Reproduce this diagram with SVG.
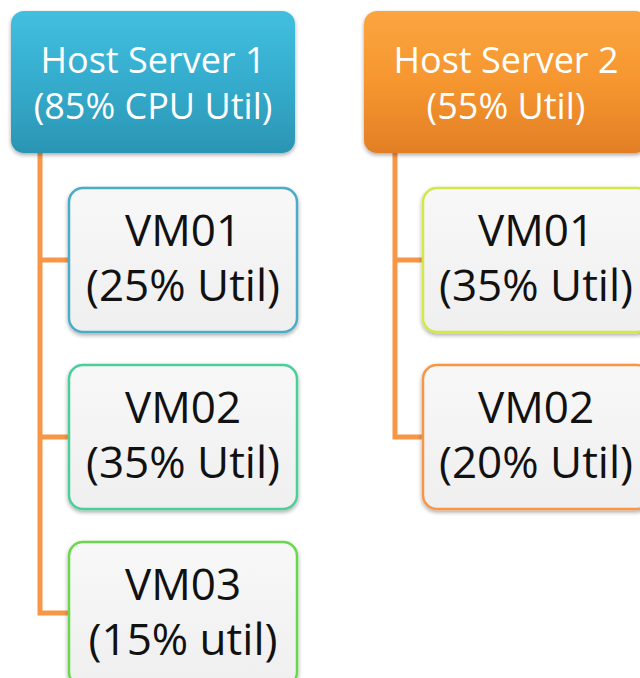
<svg xmlns="http://www.w3.org/2000/svg" width="640" height="678" viewBox="0 0 640 678">
<style>
.host text{fill:#ffffff;font-family:"Open Sans","Liberation Sans",sans-serif;font-size:36px;text-anchor:middle}
.vm text{fill:#111111;font-family:"Open Sans","Liberation Sans",sans-serif;font-size:44px;text-anchor:middle}
.vm rect{fill:url(#vmfill);stroke-width:2.5}
.conn{fill:none;stroke:#F79646;stroke-width:5;stroke-linejoin:miter}
</style>
<defs>
<linearGradient id="blue" x1="0" y1="0" x2="0" y2="1">
<stop offset="0" stop-color="#42BFDF"/>
<stop offset="0.5" stop-color="#35ACCD"/>
<stop offset="1" stop-color="#2B95B3"/>
</linearGradient>
<linearGradient id="orange" x1="0" y1="0" x2="0" y2="1">
<stop offset="0" stop-color="#FBA540"/>
<stop offset="0.5" stop-color="#F6962F"/>
<stop offset="1" stop-color="#E27F26"/>
</linearGradient>
<linearGradient id="vmfill" x1="0" y1="0" x2="0" y2="1">
<stop offset="0" stop-color="#F8F8F8"/>
<stop offset="1" stop-color="#EFEFEF"/>
</linearGradient>
<filter id="sh" x="-10%" y="-10%" width="120%" height="125%">
<feGaussianBlur in="SourceAlpha" stdDeviation="2"/>
<feOffset dx="0" dy="2" result="b"/>
<feComponentTransfer><feFuncA type="linear" slope="0.35"/></feComponentTransfer>
<feMerge><feMergeNode/><feMergeNode in="SourceGraphic"/></feMerge>
</filter>
</defs>
<g id="connectors">
<path class="conn" d="M40 153 V613 H70 M40 260 H70 M40 437 H70"/>
<path class="conn" d="M395 153 V437 H424 M395 260 H424"/>
</g>
<g id="host1" class="host">
<rect x="11" y="11" width="284" height="142" rx="13" fill="url(#blue)" filter="url(#sh)"/>
<text x="153" y="73">Host Server 1</text>
<text x="153" y="119">(85% CPU Util)</text>
</g>
<g id="host2" class="host">
<rect x="364" y="11" width="284" height="142" rx="13" fill="url(#orange)" filter="url(#sh)"/>
<text x="506" y="73">Host Server 2</text>
<text x="506" y="119">(55% Util)</text>
</g>
<g id="h1vm01" class="vm">
<rect x="69" y="188" width="228" height="144" rx="14" stroke="#4BACC6" filter="url(#sh)"/>
<text x="183" y="246">VM01</text>
<text x="183" y="301">(25% Util)</text>
</g>
<g id="h1vm02" class="vm">
<rect x="69" y="365" width="228" height="144" rx="14" stroke="#4CCF98" filter="url(#sh)"/>
<text x="183" y="423">VM02</text>
<text x="183" y="478">(35% Util)</text>
</g>
<g id="h1vm03" class="vm">
<rect x="69" y="542" width="228" height="144" rx="14" stroke="#6AD84E" filter="url(#sh)"/>
<text x="183" y="600">VM03</text>
<text x="183" y="655">(15% util)</text>
</g>
<g id="h2vm01" class="vm">
<rect x="423" y="188" width="228" height="144" rx="14" stroke="#D2E84A" filter="url(#sh)"/>
<text x="536" y="246">VM01</text>
<text x="536" y="301">(35% Util)</text>
</g>
<g id="h2vm02" class="vm">
<rect x="423" y="365" width="228" height="144" rx="14" stroke="#F79646" filter="url(#sh)"/>
<text x="536" y="423">VM02</text>
<text x="536" y="478">(20% Util)</text>
</g>
</svg>
